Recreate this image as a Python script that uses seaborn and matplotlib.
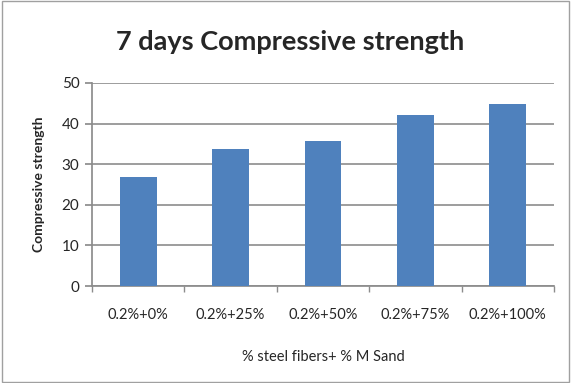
import pandas as pd
import matplotlib
matplotlib.use("Agg")
import matplotlib.pyplot as plt
import seaborn as sns
from matplotlib.patches import Rectangle

# data
mixes = ['0.2%+0%', '0.2%+25%', '0.2%+50%', '0.2%+75%', '0.2%+100%']
strength = [26.8, 33.7, 35.6, 42.2, 44.8]
y_ticks = [0, 10, 20, 30, 40, 50]

sns.set_theme(style="white")
plt.rcParams['font.family'] = ['Lato', 'DejaVu Sans']

df = pd.DataFrame({'mix': mixes, 'strength': strength})

fig = plt.figure(figsize=(5.71, 3.83), dpi=100)
ax = fig.add_axes([92 / 571, 1 - 286 / 383, (554 - 92) / 571, (286 - 83) / 383])

sns.barplot(data=df, x='mix', y='strength', color='#4f81bd', saturation=1,
            width=0.4, linewidth=0, ax=ax, zorder=3)

ax.set_ylim(0, 50)
ax.set_yticks(y_ticks)
ax.set_xlim(-0.5, len(mixes) - 0.5)
ax.yaxis.grid(True, color='#8c8c8c', linewidth=1.2, zorder=0)

for side in ['top', 'right']:
    ax.spines[side].set_visible(False)
ax.spines['left'].set_color('#8c8c8c')
ax.spines['bottom'].set_color('#8c8c8c')

# category separators like excel
ax.set_xticks([i - 0.5 for i in range(len(mixes) + 1)], minor=True)
ax.tick_params(axis='x', which='minor', length=4, color='#8c8c8c', bottom=True)
ax.tick_params(axis='x', which='major', length=0, labelsize=10.5, pad=16)
ax.tick_params(axis='y', length=5, color='#8c8c8c', left=True, labelsize=11, pad=4)

ax.set_xlabel('% steel fibers+ % M Sand', fontsize=10.5, labelpad=20)
ax.set_ylabel('Compressive strength', fontsize=10, fontweight='bold', labelpad=12)

fig.text(290 / 571, 1 - 42 / 383, '7 days Compressive strength', ha='center', va='center',
         fontsize=19.5, fontweight='bold')

fig.patches.append(Rectangle((0.003, 0.003), 0.994, 0.994, transform=fig.transFigure,
                             fill=False, edgecolor='#a0a0a0', linewidth=1))

fig.savefig('out.png', dpi=100)
